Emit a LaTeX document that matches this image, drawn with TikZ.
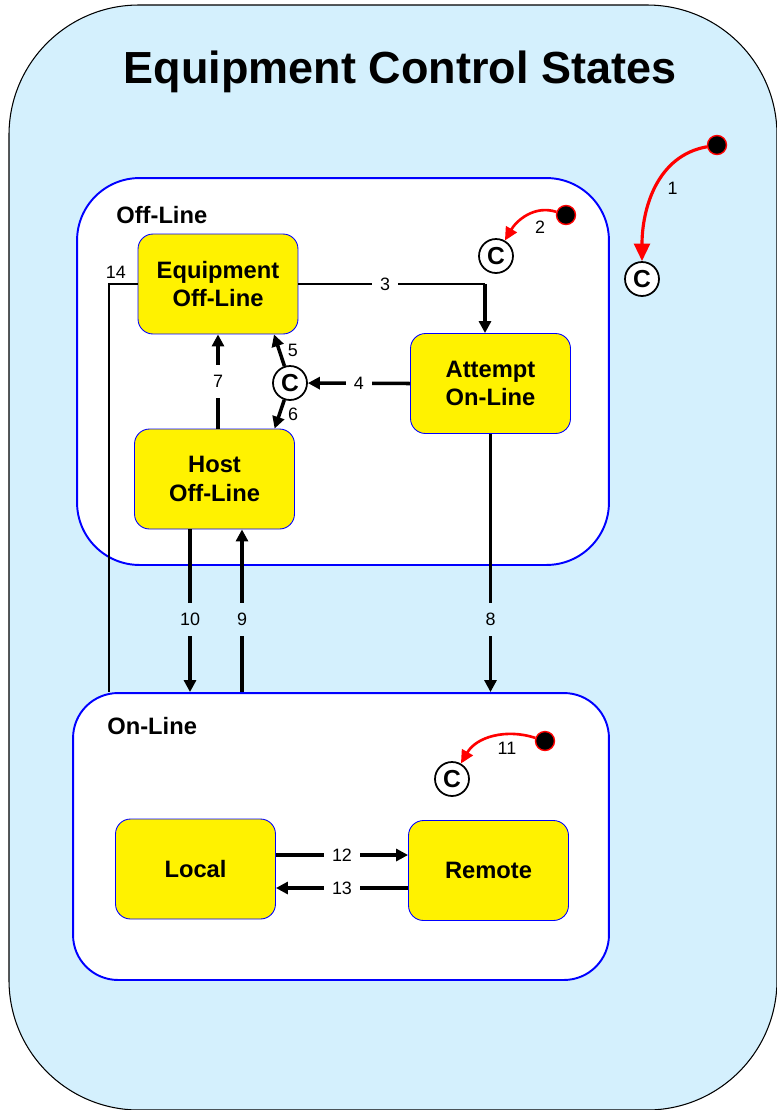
\documentclass[tikz,border=0pt]{standalone}
\usepackage{fontspec}
\setmainfont{Liberation Sans}
\usetikzlibrary{arrows.meta,positioning}
\definecolor{ctrlbg}{RGB}{212,240,253}
\begin{document}
\begin{tikzpicture}[x=0.02cm, y=-0.02cm, >={Triangle[length=6.8pt,width=6.8pt]},
    every node/.style={font=\fontsize{10.2}{12}\selectfont},
    superstate/.style={draw=blue, line width=1.1pt, fill=white},
    statebox/.style={draw=blue, line width=0.5pt, fill=yellow, rounded corners=0.3cm, minimum width=3.2cm, minimum height=2cm, align=center, font=\fontsize{13.5}{16}\selectfont\bfseries},
    choice/.style={circle, draw, line width=1pt, fill=white, minimum size=0.68cm, inner sep=0pt, font=\fontsize{14}{14}\selectfont\bfseries},
    initdot/.style={circle, draw=red, line width=0.8pt, fill=black, minimum size=0.38cm, inner sep=0pt},
    trans/.style={->, line width=2pt},
    inittrans/.style={-{Triangle[length=7.5pt,width=7pt]}, red, line width=1.5pt},
    plain/.style={line width=0.6pt},
    num/.style={fill=white, inner xsep=0.16cm, inner ysep=0.2cm},
    numtext/.style={inner sep=1pt, text=black}]
    \useasboundingbox (0,0) rectangle (777,1110);

    % Background
    \draw[fill=ctrlbg, line width=0.6pt, rounded corners=2.6cm] (9,5) rectangle (777,1110);
    \node (title) [font=\fontsize{25.6}{30}\selectfont\bfseries] at (400,72) {Equipment Control States};

    % Super states
    \node (offline) [superstate, rounded corners=1.25cm, minimum width=10.64cm, minimum height=7.74cm] at (343,371.5) {};
    \node (offlabel) [anchor=west, inner sep=0pt, font=\fontsize{13.5}{16}\selectfont\bfseries] at (116,215) {Off-Line};
    \node (online) [superstate, rounded corners=0.9cm, minimum width=10.72cm, minimum height=5.74cm] at (341,836.5) {};
    \node (onlabel) [anchor=west, inner sep=0pt, font=\fontsize{13.5}{16}\selectfont\bfseries] at (107,726) {On-Line};

    % States
    \node (equip) [statebox] at (218,284) {Equipment\\Off-Line};
    \node (attempt) [statebox] at (490.5,383.5) {Attempt\\On-Line};
    \node (host) [statebox] at (214.5,479) {Host\\Off-Line};
    \node (local) [statebox] at (195.5,869) {Local};
    \node (remote) [statebox] at (488.5,870.5) {Remote};

    % Conditional and initial points
    \node (c1) [choice] at (642,279) {C};
    \node (c2) [choice] at (496,256) {C};
    \node (cmid) [choice] at (290,383) {C};
    \node (c11) [choice] at (452,779) {C};
    \node (dot1) [initdot] at (717,145) {};
    \node (dot2) [initdot] at (566,215) {};
    \node (dot11) [initdot] at (545,741) {};
    \coordinate (bend3) at (485,284);
    \coordinate (bend14) at (109,284);

    % Initial transitions
    \draw[inittrans, line width=1.8pt, -{Triangle[length=10pt,width=9pt]}] (dot1) to[out=190, in=90] node (l1) [numtext, right=5pt] {1} (c1);
    \draw[inittrans] (dot2) to[out=162, in=60] node (l2) [numtext, below right=1pt and 3pt] {2} (c2);
    \draw[inittrans] (dot11) to[out=162, in=60] node (l11) [numtext, below right=1pt and 1pt] {11} (c11);

    % Transitions
    \draw[plain] (equip.east) -- node (l3) [num, pos=0.465] {3} (bend3);
    \draw[trans] (bend3) -- (bend3 |- attempt.north);
    \draw[trans] (attempt.west) -- node (l4) [num] {4} (cmid);
    \draw[trans] (cmid) -- node (l5) [numtext, right=3pt] {5} (equip.-42);
    \draw[trans] (cmid) -- node (l6) [numtext, right=3pt] {6} (host.40);
    \draw[trans] (host.north -| equip) -- node (l7) [num] {7} (equip.south);
    \draw[trans] (attempt.south) -- node (l8) [num, fill=ctrlbg, pos=0.72] {8} (attempt.south |- online.north);
    \draw[trans] ([xshift=0.55cm]host.south |- online.north) -- node (l9) [num, fill=ctrlbg, pos=0.445] {9} ([xshift=0.55cm]host.south);
    \draw[trans] ([xshift=-0.49cm]host.south) -- node (l10) [num, fill=ctrlbg, pos=0.555] {10} ([xshift=-0.49cm]host.south |- online.north);
    \draw[trans] ([yshift=0.28cm]local.east) -- node (l12) [num] {12} ([yshift=0.28cm]local.east -| remote.west);
    \draw[trans] ([yshift=-0.35cm]remote.west) -- node (l13) [num] {13} ([yshift=-0.35cm]remote.west -| local.east);
    \draw[plain] (online.north -| bend14) |- node (l14) [numtext, pos=0.62, above=2pt] {14} (equip.west);

\end{tikzpicture}
\end{document}
